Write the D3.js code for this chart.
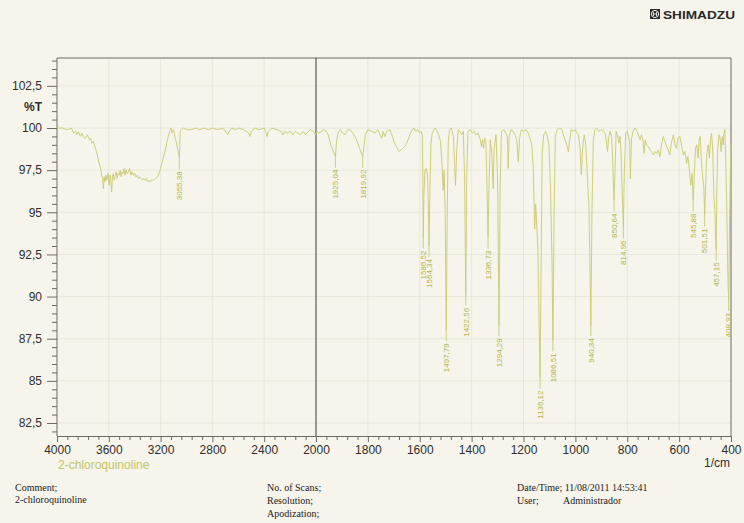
<!DOCTYPE html>
<html>
<head>
<meta charset="utf-8">
<script src="https://cdn.jsdelivr.net/npm/d3@7"></script>
<style>
  body { margin: 0; background: #f6f4eb; }
  svg { display: block; }
</style>
</head>
<body>
<div id="chart"></div>
<script>
// Spectrum (wavenumber in 1/cm, transmittance in %T)
const wavenumber = [
  4000, 3960, 3920, 3890, 3870, 3855, 3848, 3835, 3820, 3805, 3797, 3780, 3765, 3750, 3740, 3732,
  3720, 3707, 3695, 3681, 3670, 3660, 3655, 3648, 3642, 3636, 3630, 3622, 3615, 3606, 3598, 3590,
  3585, 3578, 3572, 3565, 3558, 3550, 3542, 3535, 3528, 3520, 3512, 3505, 3497, 3490, 3482, 3475,
  3466, 3458, 3450, 3440, 3430, 3420, 3410, 3400, 3390, 3380, 3370, 3360, 3350, 3340, 3330, 3320,
  3310, 3300, 3290, 3280, 3270, 3256, 3240, 3225, 3212, 3200, 3190, 3180, 3170, 3160, 3150, 3140,
  3130, 3120, 3110, 3100, 3090, 3080, 3070, 3063, 3058, 3055.38, 3052, 3048, 3040, 3025, 3000, 2960,
  2930, 2900, 2870, 2830, 2800, 2760, 2720, 2690, 2680, 2670, 2650, 2620, 2600, 2560, 2520, 2510,
  2500, 2470, 2440, 2400, 2385, 2378, 2370, 2340, 2300, 2270, 2255, 2240, 2220, 2200, 2180, 2160,
  2140, 2120, 2100, 2080, 2060, 2040, 2020, 2004, 1997, 1985, 1972, 1960, 1953, 1943, 1933, 1925.04,
  1921, 1915, 1907, 1897, 1888, 1878, 1869, 1858, 1850, 1843, 1837, 1830, 1819.92, 1815, 1810, 1800,
  1785, 1773, 1762, 1753, 1747, 1741, 1735, 1727, 1715, 1705, 1698, 1690, 1684, 1678, 1672, 1665,
  1658, 1650, 1643, 1636, 1628, 1622, 1615, 1608, 1600, 1594, 1590, 1588, 1586.52, 1584, 1580, 1575,
  1570, 1567, 1564.34, 1561, 1557, 1552, 1545, 1540, 1533, 1527, 1520, 1514, 1510, 1506, 1502, 1497.79,
  1494, 1490, 1485, 1478, 1470, 1466, 1462, 1458, 1452, 1445, 1438, 1432, 1427, 1422.56, 1419, 1414,
  1405, 1398, 1390, 1383, 1375, 1368, 1362, 1358, 1354, 1350, 1345, 1340, 1336.73, 1333, 1328, 1322,
  1317, 1313, 1306, 1300, 1294.29, 1290, 1285, 1276, 1268, 1262, 1259, 1255, 1248, 1240, 1233, 1226,
  1220, 1215, 1208, 1200, 1190, 1182, 1175, 1168, 1162, 1157, 1153, 1145, 1140, 1136.12, 1132, 1128,
  1122, 1115, 1108, 1102, 1096, 1090, 1086.51, 1082, 1077, 1070, 1060, 1052, 1046, 1040, 1033, 1027,
  1022, 1016, 1008, 1000, 994, 988, 982, 977, 972, 966, 960, 955, 952, 948, 944, 940.34,
  936, 931, 925, 918, 910, 899, 890, 884, 879, 876, 872, 866, 860, 856, 853, 850.64,
  847, 843, 838, 832, 828, 824, 819, 814.96, 811, 806, 800, 795, 791, 788, 784, 778,
  770, 762, 755, 750, 745, 739, 735, 731, 726, 719, 712, 706, 699, 693, 687, 680,
  674, 668, 661, 655, 648, 642, 636, 630, 622, 616, 610, 604, 597, 590, 584, 578,
  571, 566, 560, 555, 550, 545.88, 542, 537, 532, 527, 523, 519, 514, 510, 505, 501.51,
  497, 493, 488, 483, 479, 475, 470, 466, 462, 459.5, 457.15, 455, 451, 446, 442, 438,
  434, 430, 427, 424, 420, 416, 413, 411, 408.93, 406, 403, 400
];
const transmittance = [
  100, 100, 99.9, 100, 99.7, 99.8, 99.6, 99.8, 99.5, 99.7, 99.5, 99.4, 99.6, 99.3, 99.4, 99.1,
  99.2, 98.9, 98.6, 98.1, 97.8, 97.5, 97.2, 97.0, 96.4, 97.1, 96.8, 97.2, 96.9, 97.3, 96.6, 97.2,
  97.0, 96.2, 97.1, 97.3, 96.9, 97.2, 97.4, 97.0, 97.3, 97.2, 97.5, 97.1, 97.4, 97.3, 97.6, 97.2,
  97.5, 97.3, 97.4, 97.6, 97.2, 97.4, 97.2, 97.3, 97.1, 97.2, 97.0, 97.1, 97.0, 96.9, 97.0, 96.9,
  97.0, 96.8, 96.9, 96.8, 96.9, 96.9, 97.0, 97.1, 97.3, 97.6, 97.9, 98.2, 98.5, 98.8, 99.2, 99.5,
  99.8, 100.0, 99.7, 99.9, 99.5, 99.2, 98.8, 98.5, 98.4, 98.2, 99.0, 99.8, 99.9, 100, 99.9, 99.9,
  100, 99.9, 100, 99.9, 100, 99.9, 100, 99.7, 99.6, 99.8, 100, 99.9, 100, 99.9, 99.7, 99.5,
  99.8, 100, 99.9, 100, 99.7, 99.5, 99.8, 100, 99.9, 99.8, 99.6, 99.8, 99.7, 99.8, 99.6, 99.8,
  99.7, 99.6, 99.8, 99.6, 99.8, 99.9, 99.8, 99.6, 99.8, 99.7, 99.9, 99.8, 99.6, 99.0, 98.6, 98.3,
  99.2, 99.7, 99.9, 99.7, 99.6, 99.9, 99.9, 99.7, 99.5, 99.3, 99.0, 98.7, 98.3, 98.9, 99.6, 99.9,
  99.8, 99.7, 99.9, 99.6, 99.4, 99.8, 99.5, 99.8, 99.9, 99.5, 99.1, 98.9, 98.7, 98.6, 98.7, 98.8,
  98.9, 99.1, 99.4, 99.7, 99.9, 100, 99.8, 99.9, 99.7, 99.8, 99.5, 96.5, 93.5, 96.0, 97.5, 97.6,
  97.2, 95.5, 93.0, 96.0, 99.0, 99.7, 99.9, 100, 99.8, 99.6, 99.2, 97.8, 96.3, 97.5, 95.0, 88.0,
  95.0, 99.2, 99.9, 100, 99.5, 98.0, 96.6, 98.5, 99.9, 99.8, 99.6, 99.8, 97.0, 90.1, 97.0, 99.8,
  99.9, 99.7, 99.8, 99.6, 99.7, 99.4, 98.9, 99.3, 98.8, 99.4, 99.2, 96.0, 93.5, 96.5, 99.3, 98.5,
  96.4, 98.8, 99.6, 97.0, 88.3, 96.5, 99.8, 99.9, 99.7, 99.5, 97.6, 99.5, 99.9, 99.8, 99.6, 99.3,
  98.0, 99.4, 99.9, 99.8, 99.9, 99.7, 99.4, 99.0, 97.5, 94.0, 95.5, 93.0, 88.5, 85.2, 92.0, 98.5,
  99.6, 99.8, 99.5, 99.0, 96.5, 92.0, 87.4, 95.0, 99.5, 99.9, 100, 99.9, 99.6, 99.3, 99.0, 98.6,
  99.3, 99.9, 99.8, 99.9, 99.7, 99.6, 98.8, 97.2, 98.8, 99.6, 99.0, 97.5, 96.5, 95.5, 92.0, 88.3,
  95.0, 99.2, 99.9, 100, 99.8, 99.9, 99.8, 99.6, 99.0, 98.6, 99.4, 99.8, 99.5, 98.0, 96.5, 95.7,
  97.5, 99.8, 99.6, 99.1, 99.5, 98.5, 96.0, 94.1, 97.5, 99.7, 99.8, 99.5, 99.2, 97.0, 99.3, 99.8,
  100, 99.8, 99.5, 99.3, 99.6, 99.2, 98.5, 99.3, 99.0, 98.9, 98.7, 98.6, 98.4, 98.6, 98.5, 98.7,
  98.3, 99.0, 99.5, 99.2, 98.9, 98.7, 98.4, 99.1, 99.6, 99.0, 98.8, 99.4, 99.5, 98.9, 98.4, 98.6,
  97.9, 98.3, 97.4, 96.6, 97.3, 95.7, 97.0, 98.8, 99.0, 98.2, 99.3, 99.5, 98.0, 97.2, 96.5, 94.8,
  97.0, 98.5, 99.0, 98.2, 99.3, 99.7, 98.5, 96.0, 95.0, 93.5, 92.8, 96.0, 98.8, 99.6, 99.4, 98.6,
  99.5, 99.0, 99.7, 99.9, 98.0, 95.0, 92.0, 90.5, 89.8, 94.0, 97.0, 99.0
];

// Labelled peaks
const peakWn = [3055.38, 1925.04, 1819.92, 1586.52, 1564.34, 1497.79, 1422.56, 1336.73, 1294.29,
  1136.12, 1086.51, 940.34, 850.64, 814.96, 545.88, 501.51, 457.15, 408.93];
const peakT = [98.2, 98.3, 98.3, 93.5, 93.0, 88.0, 90.1, 93.5, 88.3,
  85.2, 87.4, 88.3, 95.7, 94.1, 95.7, 94.8, 92.8, 89.8];

// Axis ticks
const xTicks = [4000, 3600, 3200, 2800, 2400, 2000, 1800, 1600, 1400, 1200, 1000, 800, 600, 400];
const yTicks = [82.5, 85, 87.5, 90, 92.5, 95, 97.5, 100, 102.5];

const W = 744, H = 523;
const plotL = 57, plotR = 731, plotT = 58, plotB = 436;

const svg = d3.select("#chart")
  .append("svg")
  .attr("width", W)
  .attr("height", H)
  .style("font-family", "'Liberation Sans', Arial, sans-serif");

svg.append("rect").attr("width", W).attr("height", H).attr("fill", "#f6f4eb");

// the instrument uses a 2x expanded scale below 2000 1/cm
const x = d3.scaleLinear().domain([4000, 2000, 400]).range([plotL, 316, plotR]);
const y = d3.scaleLinear().domain([82.5, 100]).range([423, 128]);

const comma = v => String(v).replace(".", ",");

// grid
svg.append("g").selectAll("line")
  .data(xTicks.slice(1, -1).filter(d => d !== 2000))
  .join("line")
  .attr("x1", d => x(d)).attr("x2", d => x(d))
  .attr("y1", plotT).attr("y2", plotB)
  .attr("stroke", "#e6e5d8").attr("stroke-width", 0.8);

svg.append("g").selectAll("line")
  .data(yTicks)
  .join("line")
  .attr("x1", plotL).attr("x2", plotR)
  .attr("y1", d => y(d)).attr("y2", d => y(d))
  .attr("stroke", "#e6e5d8").attr("stroke-width", 0.8);

// frame
svg.append("path")
  .attr("d", `M${plotL},${plotB}V${plotT}H${plotR}V${plotB}`)
  .attr("fill", "none").attr("stroke", "#6a6a66").attr("stroke-width", 1);
svg.append("line")
  .attr("x1", x(2000)).attr("x2", x(2000)).attr("y1", plotT).attr("y2", plotB)
  .attr("stroke", "#3a3a38").attr("stroke-width", 1);

// x axis
const minorX = [];
for (let i = 0; i < xTicks.length - 1; i++) {
  const a = xTicks[i], b = xTicks[i + 1];
  for (let k = 1; k < 5; k++) minorX.push(a + (b - a) * k / 5);
}
const xAxis = svg.append("g")
  .attr("transform", `translate(0,${plotB})`)
  .call(d3.axisBottom(x).tickValues(xTicks).tickSize(6).tickPadding(3).tickFormat(d => d));
xAxis.select(".domain").attr("stroke", "#6a6a66");
xAxis.selectAll(".tick line").attr("stroke", "#6a6a66");
xAxis.selectAll("text").attr("font-size", 12).attr("fill", "#2e2e2e");
svg.append("g")
  .attr("transform", `translate(0,${plotB})`)
  .call(d3.axisBottom(x).tickValues(minorX).tickSize(4).tickFormat(""))
  .call(g => g.select(".domain").remove())
  .selectAll("line").attr("stroke", "#6a6a66");

// y axis
const minorY = [];
for (let v = 82; v <= 104; v += 0.5) if (!yTicks.includes(v)) minorY.push(v);
const yAxis = svg.append("g")
  .attr("transform", `translate(${plotL},0)`)
  .call(d3.axisLeft(y).tickValues(yTicks).tickSize(10).tickPadding(5).tickFormat(comma));
yAxis.select(".domain").remove();
yAxis.selectAll(".tick line").attr("stroke", "#6a6a66");
yAxis.selectAll("text").attr("font-size", 12).attr("fill", "#2e2e2e");
svg.append("g")
  .attr("transform", `translate(${plotL},0)`)
  .call(d3.axisLeft(y).tickValues(minorY.filter(v => y(v) > plotT && y(v) < plotB)).tickSize(5).tickFormat(""))
  .call(g => g.select(".domain").remove())
  .selectAll("line").attr("stroke", "#6a6a66");

svg.append("text")
  .attr("x", 42).attr("y", y(101.25)).attr("dy", "0.35em")
  .attr("text-anchor", "end").attr("font-size", 12).attr("font-weight", "bold")
  .attr("fill", "#2e2e2e").text("%T");

svg.append("text")
  .attr("x", plotR - 1).attr("y", 467)
  .attr("text-anchor", "end").attr("font-size", 12).attr("fill", "#2e2e2e").text("1/cm");

svg.append("text")
  .attr("x", plotL + 1).attr("y", 469)
  .attr("font-size", 12).attr("fill", "#c3c665").text("2-chloroquinoline");

// spectrum
const n = Math.min(wavenumber.length, transmittance.length);
const line = d3.line().x(d => x(d[0])).y(d => y(d[1]));
svg.append("path")
  .datum(d3.range(n).map(i => [wavenumber[i], transmittance[i]]))
  .attr("d", line)
  .attr("fill", "none")
  .attr("stroke", "#c8ca72")
  .attr("stroke-width", 0.9);

// peak markers and labels
const peaks = svg.append("g").selectAll("g")
  .data(peakWn.map((w, i) => ({ w, t: peakT[i] })))
  .join("g")
  .attr("transform", d => `translate(${x(d.w)},${y(d.t)})`);
peaks.append("line")
  .attr("y1", 0).attr("y2", 11)
  .attr("stroke", "#c8ca72").attr("stroke-width", 0.9);
peaks.append("text")
  .attr("transform", "translate(0,13) rotate(-90)")
  .attr("text-anchor", "end").attr("dy", "0.35em")
  .attr("font-size", 8).attr("fill", "#b2b646")
  .text(d => d3.format(".2f")(d.w).replace(".", ","));

// logo
const logo = svg.append("g").attr("transform", "translate(650,9)");
logo.append("rect").attr("width", 10).attr("height", 10).attr("fill", "#2a2a2a");
logo.append("circle").attr("cx", 5).attr("cy", 5).attr("r", 3.6).attr("fill", "none").attr("stroke", "#f6f4eb").attr("stroke-width", 1);
logo.append("path").attr("d", "M3.4,3V7M6.6,3V7M3.4,5H6.6").attr("stroke", "#f6f4eb").attr("stroke-width", 0.9);
logo.append("text")
  .attr("x", 13).attr("y", 9.5)
  .attr("font-size", 11).attr("font-weight", "bold")
  .attr("textLength", 72).attr("lengthAdjust", "spacingAndGlyphs")
  .attr("fill", "#2a2a2a").text("SHIMADZU");

// footer
const footer = [
  [15, 491, "Comment;"], [15, 503, "2-chloroquinoline"],
  [267, 491, "No. of Scans;"], [267, 504, "Resolution;"], [267, 517, "Apodization;"],
  [517, 491, "Date/Time; 11/08/2011 14:53:41"], [517, 504, "User;"], [563, 504, "Administrador"]
];
svg.append("g").selectAll("text")
  .data(footer)
  .join("text")
  .attr("x", d => d[0]).attr("y", d => d[1])
  .attr("font-family", "'Liberation Serif', 'Times New Roman', serif")
  .attr("font-size", 10).attr("fill", "#222")
  .text(d => d[2]);
</script>
</body>
</html>
